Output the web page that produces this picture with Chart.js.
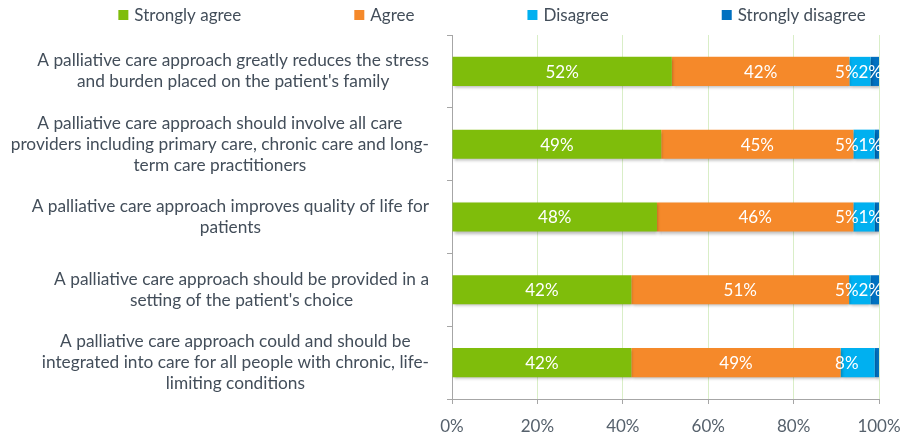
<!DOCTYPE html>
<html>
<head>
<meta charset="utf-8">
<script src="https://cdn.jsdelivr.net/npm/chart.js@4"></script>
<style>
  html, body { margin: 0; padding: 0; background: #ffffff; }
  #wrap { width: 901px; height: 436px; }
</style>
</head>
<body>
<div id="wrap"><canvas id="chart" width="901" height="436"></canvas></div>
<script>
// Survey statements (each entry holds the wrapped lines of one label)
const categories = [
  ["A palliative care approach greatly reduces the stress", "and burden placed on the patient's family"],
  ["A palliative care approach should involve all care", "providers including primary care, chronic care and long-", "term care practitioners"],
  ["A palliative care approach improves quality of life for", "patients"],
  ["A palliative care approach should be provided in a", "setting of the patient's choice"],
  ["A palliative care approach could and should be", "integrated into care for all people with chronic, life-", "limiting conditions"]
];

const seriesNames = ["Strongly agree", "Agree", "Disagree", "Strongly disagree"];

// Responses in percent, as labelled
const stronglyAgree    = [52, 49, 48, 42, 42];
const agree            = [42, 45, 46, 51, 49];
const disagree         = [5, 5, 5, 5, 8];
const stronglyDisagree = [2, 1, 1, 2, 1];

const xTickValues = [0, 20, 40, 60, 80, 100];

const seriesColors = ["#7FBD0B", "#F5892A", "#00B0F0", "#0070C0"];
const FONT = "Lato, 'Open Sans', sans-serif";

const rawSeries = [stronglyAgree, agree, disagree, stronglyDisagree];
// 100% stacked: each bar is scaled to the total of its row
const rowTotals = categories.map((_, i) => rawSeries.reduce((s, arr) => s + arr[i], 0));

const datasets = rawSeries.map((arr, k) => ({
  label: seriesNames[k],
  data: arr.map((v, i) => v / rowTotals[i] * 100),
  raw: arr,
  backgroundColor: seriesColors[k],
  borderWidth: 0,
  barPercentage: 0.4,
  categoryPercentage: 1.0
}));

// The last "strongly disagree" label does not fit and is left off
const hiddenLabels = [{ dataset: 3, index: 4 }];

const shadowPlugin = {
  id: 'barShadow',
  beforeDatasetsDraw(chart) {
    const ctx = chart.ctx;
    ctx.save();
    ctx.shadowColor = 'rgba(0,0,0,0.28)';
    ctx.shadowBlur = 3;
    ctx.shadowOffsetX = 1;
    ctx.shadowOffsetY = 2;
  },
  afterDatasetsDraw(chart) {
    chart.ctx.restore();
  }
};

// Segment value labels: centred, but pushed left where they would
// collide with the next label or run past the end of the axis.
const valueLabelPlugin = {
  id: 'valueLabels',
  afterDatasetsDraw(chart) {
    const ctx = chart.ctx;
    const area = chart.chartArea;
    const n = chart.data.datasets.length;
    ctx.save();
    ctx.font = "17px " + FONT;
    ctx.fillStyle = '#ffffff';
    ctx.textAlign = 'left';
    ctx.textBaseline = 'middle';
    categories.forEach((_, i) => {
      let limit = area.right + 3;
      const placed = [];
      for (let k = n - 1; k >= 0; k--) {
        const ds = chart.data.datasets[k];
        const bar = chart.getDatasetMeta(k).data[i];
        const text = ds.raw[i] + '%';
        const w = ctx.measureText(text).width;
        let left = (bar.x + bar.base) / 2 - w / 2;
        if (left + w > limit) left = limit - w;
        limit = left;
        placed.push({ k, text, left, y: bar.y + 1 });
      }
      placed.forEach(p => {
        if (hiddenLabels.some(h => h.dataset === p.k && h.index === i)) return;
        ctx.fillText(p.text, p.left, p.y);
      });
    });
    ctx.restore();
  }
};

const categoryLabelPlugin = {
  id: 'categoryLabels',
  afterDraw(chart) {
    const ctx = chart.ctx;
    const yScale = chart.scales.y;
    const rightEdge = chart.chartArea.left - 23;
    const lineHeight = 21;
    ctx.save();
    ctx.font = "17.3px " + FONT;
    ctx.fillStyle = '#434E5A';
    ctx.textAlign = 'center';
    ctx.textBaseline = 'middle';
    categories.forEach((lines, i) => {
      const y = yScale.getPixelForValue(i);
      const blockW = Math.max(...lines.map(l => ctx.measureText(l).width));
      const cx = rightEdge - blockW / 2;
      lines.forEach((line, j) => {
        ctx.fillText(line, cx, y + (j - (lines.length - 1) / 2) * lineHeight);
      });
    });
    ctx.restore();
  }
};

const legendPlugin = {
  id: 'topLegend',
  afterDraw(chart) {
    const ctx = chart.ctx;
    const centerX = 492, y = 15, box = 10, gap = 6, itemGap = 113;
    ctx.save();
    ctx.font = "17px " + FONT;
    ctx.textBaseline = 'middle';
    ctx.textAlign = 'left';
    const widths = seriesNames.map(n => box + gap + ctx.measureText(n).width);
    const total = widths.reduce((a, b) => a + b, 0) + itemGap * (seriesNames.length - 1);
    let x = centerX - total / 2;
    seriesNames.forEach((name, k) => {
      ctx.fillStyle = seriesColors[k];
      ctx.fillRect(x, y - box / 2, box, box);
      ctx.fillStyle = '#434E5A';
      ctx.fillText(name, x + box + gap, y + 1);
      x += widths[k] + itemGap;
    });
    ctx.restore();
  }
};

new Chart(document.getElementById('chart'), {
  type: 'bar',
  data: { labels: categories.map(l => l.join(' ')), datasets },
  options: {
    indexAxis: 'y',
    responsive: false,
    animation: false,
    devicePixelRatio: 1,
    layout: { padding: { top: 35, right: 22, left: 0, bottom: 0 } },
    plugins: {
      legend: { display: false },
      tooltip: { enabled: false }
    },
    scales: {
      x: {
        type: 'linear',
        stacked: true,
        min: 0,
        max: 100,
        afterBuildTicks(scale) {
          scale.ticks = xTickValues.map(v => ({ value: v }));
        },
        afterFit(scale) {
          scale.height = 37;
          scale.paddingLeft = 0;
          scale.paddingRight = 0;
        },
        ticks: {
          callback: v => v + '%',
          color: '#56616C',
          font: { family: FONT, size: 17 },
          padding: 12,
          maxRotation: 0
        },
        grid: {
          color: '#D9EEC7',
          tickColor: '#A6A6A6',
          tickLength: 5,
          lineWidth: 1
        },
        border: { color: '#A6A6A6', width: 1 }
      },
      y: {
        stacked: true,
        afterFit(scale) { scale.width = 452; },
        ticks: { display: false },
        grid: {
          offset: true,
          drawOnChartArea: false,
          drawTicks: true,
          tickLength: 5,
          color: '#A6A6A6'
        },
        border: { color: '#A6A6A6', width: 1 }
      }
    }
  },
  plugins: [shadowPlugin, valueLabelPlugin, categoryLabelPlugin, legendPlugin]
});
</script>
</body>
</html>
